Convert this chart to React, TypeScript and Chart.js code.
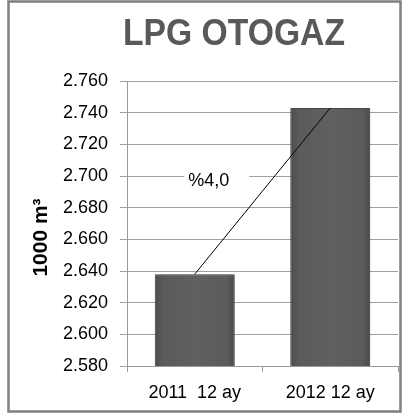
import React, { useEffect, useRef } from "react";
import { Chart, registerables } from "chart.js";

Chart.register(...registerables);

const categories = ["2011  12 ay", "2012 12 ay"];
const values = [2638, 2743];
const yMin = 2580;
const yMax = 2760;
const yStep = 20;
const titleText = "LPG OTOGAZ";
const yAxisTitle = "1000 m³";
const changeLabel = "%4,0";
const changeLabelValue = 2697;

const FONT = "'Liberation Sans', Arial, sans-serif";

function fmt(v: number): string {
  const n = Math.round(v);
  return Math.floor(n / 1000) + "." + String(n % 1000).padStart(3, "0");
}

function barFill(c: any) {
  const chart = c.chart;
  const xs = chart.scales && chart.scales.x;
  if (!xs || !chart.chartArea) return "#5d5d5d";
  const center = xs.getPixelForValue(c.dataIndex);
  const half = (xs.width / categories.length) * 0.59 / 2;
  const g = chart.ctx.createLinearGradient(center - half, 0, center + half, 0);
  g.addColorStop(0, "#4a4a4a");
  g.addColorStop(0.1, "#5b5b5b");
  g.addColorStop(0.5, "#606060");
  g.addColorStop(0.9, "#5b5b5b");
  g.addColorStop(1, "#4a4a4a");
  return g;
}

const framePlugin = {
  id: "frame",
  beforeDraw(chart: any) {
    const ctx = chart.ctx;
    ctx.save();
    ctx.fillStyle = "#ffffff";
    ctx.fillRect(0, 0, chart.width, chart.height);
    ctx.restore();
  },
  beforeDatasetsDraw(chart: any) {
    const ctx = chart.ctx;
    const xs = chart.scales.x;
    const ys = chart.scales.y;
    const cx = xs.getPixelForValue(0) + 14;
    const cy = ys.getPixelForValue(changeLabelValue);
    ctx.save();
    ctx.font = `18px ${FONT}`;
    const w = ctx.measureText(changeLabel).width;
    ctx.fillStyle = "#ffffff";
    ctx.fillRect(cx - w / 2 - 4, cy - 13, w + 24, 26);
    ctx.fillStyle = "#000000";
    ctx.textAlign = "center";
    ctx.textBaseline = "middle";
    ctx.fillText(changeLabel, cx, cy);
    ctx.restore();
  },
  beforeDatasetDraw(chart: any, args: any) {
    if (args.index === 0) {
      const ctx = chart.ctx;
      ctx.save();
      ctx.shadowColor = "rgba(0,0,0,0.45)";
      ctx.shadowBlur = 5;
      ctx.shadowOffsetX = 1;
      ctx.shadowOffsetY = 1;
    }
  },
  afterDatasetDraw(chart: any, args: any) {
    if (args.index === 0) {
      chart.ctx.restore();
    }
  },
  afterDraw(chart: any) {
    const ctx = chart.ctx;
    ctx.save();
    ctx.fillStyle = "#595959";
    ctx.font = `bold 37px ${FONT}`;
    ctx.textAlign = "center";
    ctx.textBaseline = "alphabetic";
    ctx.translate(234, 45);
    ctx.scale(0.91, 1);
    ctx.fillText(titleText, 0, 0);
    ctx.restore();

    const ys = chart.scales.y;
    ctx.save();
    ctx.fillStyle = "#000000";
    ctx.font = `bold 21px ${FONT}`;
    ctx.textAlign = "center";
    ctx.textBaseline = "middle";
    ctx.translate(41, (ys.top + ys.bottom) / 2 + 14);
    ctx.rotate(-Math.PI / 2);
    ctx.fillText(yAxisTitle, 0, 0);
    ctx.restore();

    ctx.save();
    ctx.strokeStyle = "#7f7f7f";
    ctx.lineWidth = 2.5;
    ctx.strokeRect(8.5, 1.5, 392, 410);
    ctx.restore();
  },
};

export default function App() {
  const ref = useRef<HTMLCanvasElement | null>(null);

  useEffect(() => {
    document.body.style.margin = "0";
    const canvas = ref.current;
    if (!canvas) return;
    const chart = new Chart(canvas, {
      type: "bar",
      data: {
        labels: categories,
        datasets: [
          {
            type: "bar",
            data: values,
            backgroundColor: barFill,
            borderColor: "#505050",
            borderWidth: 1,
            categoryPercentage: 1,
            barPercentage: 0.59,
            order: 2,
          } as any,
          {
            type: "line",
            data: values,
            borderColor: "#000000",
            borderWidth: 1,
            pointRadius: 0,
            fill: false,
            order: 1,
          } as any,
        ],
      },
      options: {
        responsive: false,
        animation: false,
        layout: { padding: { top: 81, right: 5, bottom: 0, left: 0 } },
        plugins: {
          legend: { display: false },
          tooltip: { enabled: false },
          title: { display: false },
        },
        scales: {
          x: {
            grid: {
              drawOnChartArea: false,
              drawTicks: true,
              tickLength: 6,
              color: "#9a9a9a",
              offset: true,
            },
            border: { color: "#9a9a9a", width: 1 },
            ticks: {
              color: "#000000",
              font: { family: FONT, size: 18 },
              padding: 10,
            },
            afterFit(scale: any) {
              scale.height = 48;
            },
          },
          y: {
            min: yMin,
            max: yMax,
            grid: { color: "#a0a0a0", tickLength: 7 },
            border: { color: "#9a9a9a", width: 1 },
            ticks: {
              stepSize: yStep,
              color: "#000000",
              font: { family: FONT, size: 18 },
              padding: 12,
              callback: (v: any) => fmt(Number(v)),
            },
            afterFit(scale: any) {
              scale.width = 127;
            },
          },
        },
      } as any,
      plugins: [framePlugin],
    });
    return () => chart.destroy();
  }, []);

  return (
    <div style={{ width: 403, height: 414 }}>
      <canvas ref={ref} width={403} height={414} style={{ display: "block" }} />
    </div>
  );
}
